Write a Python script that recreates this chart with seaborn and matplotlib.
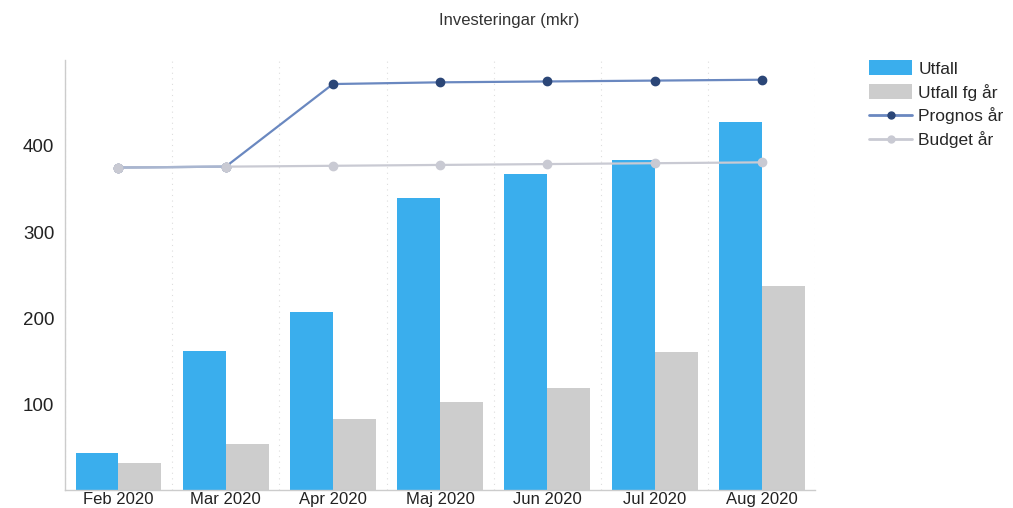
import pandas as pd
import matplotlib
matplotlib.use("Agg")
import matplotlib.pyplot as plt
import seaborn as sns
from matplotlib.patches import Patch
from matplotlib.lines import Line2D

months = ["Feb 2020", "Mar 2020", "Apr 2020", "Maj 2020", "Jun 2020", "Jul 2020", "Aug 2020"]
utfall = [43, 162, 207, 340, 368, 384, 428]
utfall_fg = [32, 54, 83, 103, 119, 161, 237]
prognos = [375, 376, 472, 474, 475, 476, 477]
budget = [375, 376, 377, 378, 379, 380, 381]

c_utfall = "#3aaeed"
c_fg = "#cdcdcd"
c_prog_line = "#6a88c0"
c_prog_mark = "#2b4677"
c_budget = "#c9cad3"

sns.set_style("white")
plt.rcParams["font.family"] = ["Liberation Sans", "DejaVu Sans"]

df = pd.DataFrame({
    "month": months * 2,
    "value": utfall + utfall_fg,
    "serie": ["Utfall"] * len(months) + ["Utfall fg år"] * len(months),
})

fig = plt.figure(figsize=(10.13, 5.08), dpi=100)
ax = fig.add_axes([0.064, 0.035, 0.741, 0.847])

sns.barplot(data=df, x="month", y="value", hue="serie", order=months,
            palette=[c_utfall, c_fg], width=0.8, saturation=1, linewidth=0,
            ax=ax, legend=False)

xs = list(range(len(months)))
ax.plot(xs, prognos, color=c_prog_line, lw=1.6, marker="o", ms=6, mfc=c_prog_mark, mec=c_prog_mark, zorder=3)
ax.plot(xs, budget, color=c_budget, lw=1.6, marker="o", ms=6, mfc=c_budget, mec=c_budget, zorder=4)
# Prognos segment Feb-Mar lies on the budget line, budget markers on top
ax.plot(xs[:2], prognos[:2], color="#a9b6d0", lw=1.6, zorder=4.5)
ax.plot(xs[:2], budget[:2], color=c_budget, lw=0, marker="o", ms=6, mfc=c_budget, mec=c_budget, zorder=5)

for i in range(len(months) + 1):
    ax.axvline(i - 0.5, color="#dddddd", lw=0.8, ls=(0, (1, 4)), zorder=0)

ax.set_ylim(0, 500)
ax.set_xlim(-0.5, len(months) - 0.5)
ax.set_yticks([100, 200, 300, 400])
ax.set_xlabel("")
ax.set_ylabel("")
ax.tick_params(axis="y", labelsize=13.5, length=4, color="#cccccc", colors="#222222")
ax.tick_params(axis="x", labelsize=12, length=0, pad=1, colors="#222222")
for s in ["top", "right"]:
    ax.spines[s].set_visible(False)
for s in ["left", "bottom"]:
    ax.spines[s].set_color("#cccccc")
    ax.spines[s].set_linewidth(1)

fig.suptitle("Investeringar (mkr)", fontsize=12, color="#333333", x=0.503, y=0.96, va="center")

handles = [
    Patch(facecolor=c_utfall, edgecolor="none"),
    Patch(facecolor=c_fg, edgecolor="none"),
    Line2D([], [], color=c_prog_line, lw=2, marker="o", ms=5, mfc=c_prog_mark, mec=c_prog_mark),
    Line2D([], [], color=c_budget, lw=2, marker="o", ms=5, mfc=c_budget, mec=c_budget),
]
ax.legend(handles, ["Utfall", "Utfall fg år", "Prognos år", "Budget år"],
          loc="upper left", bbox_to_anchor=(1.062, 1.015), frameon=False,
          fontsize=12.5, handlelength=2.5, handleheight=0.9, labelspacing=0.4,
          handletextpad=0.35, borderaxespad=0)

fig.savefig("out.png", dpi=100)
